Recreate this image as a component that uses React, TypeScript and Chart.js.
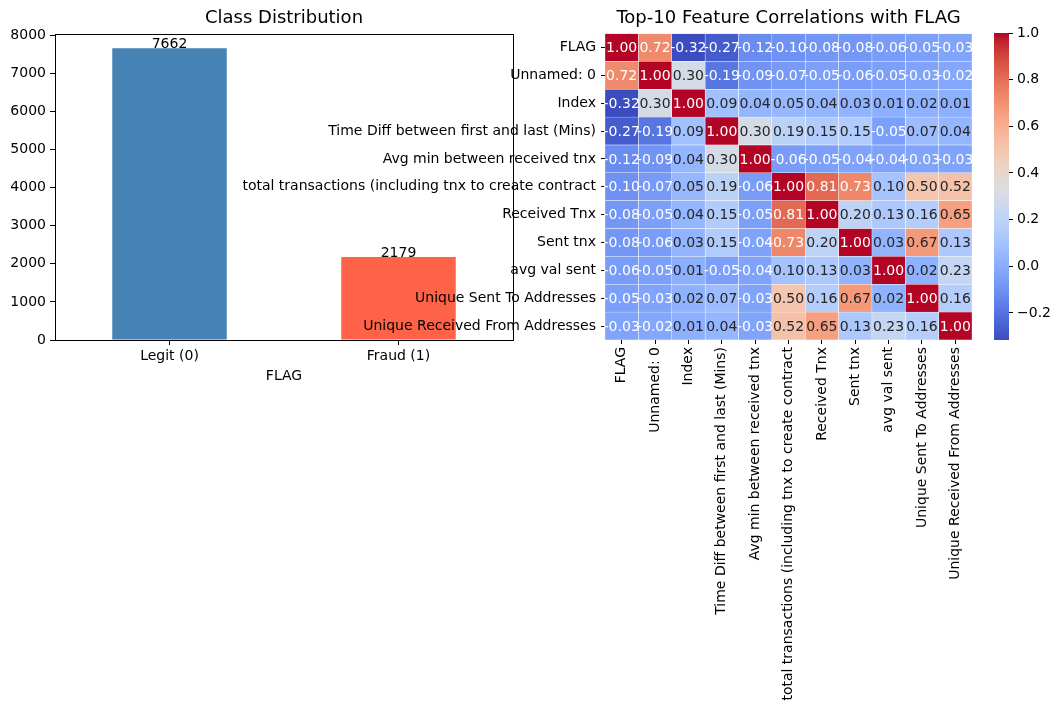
import React, { useEffect, useRef } from 'react';
import { Chart, registerables } from 'chart.js';

Chart.register(...registerables);

// ---------------- DATA ----------------
const classLabels = ['Legit (0)', 'Fraud (1)'];
const classCounts = [7662, 2179];
const classColors = ['#4682B4', '#FF6347'];
const countTicks = [0, 1000, 2000, 3000, 4000, 5000, 6000, 7000, 8000];
const countAxisMax = 8045;

const featureLabels = [
  'FLAG',
  'Unnamed: 0',
  'Index',
  'Time Diff between first and last (Mins)',
  'Avg min between received tnx',
  'total transactions (including tnx to create contract',
  'Received Tnx',
  'Sent tnx',
  'avg val sent',
  'Unique Sent To Addresses',
  'Unique Received From Addresses',
];

const corrFLAG = [1.0, 0.72, -0.32, -0.27, -0.12, -0.10, -0.08, -0.08, -0.06, -0.05, -0.03];
const corrUnnamed = [0.72, 1.0, 0.30, -0.19, -0.09, -0.07, -0.05, -0.06, -0.05, -0.03, -0.02];
const corrIndex = [-0.32, 0.30, 1.0, 0.09, 0.04, 0.05, 0.04, 0.03, 0.01, 0.02, 0.01];
const corrTimeDiff = [-0.27, -0.19, 0.09, 1.0, 0.30, 0.19, 0.15, 0.15, -0.05, 0.07, 0.04];
const corrAvgMin = [-0.12, -0.09, 0.04, 0.30, 1.0, -0.06, -0.05, -0.04, -0.04, -0.03, -0.03];
const corrTotalTx = [-0.10, -0.07, 0.05, 0.19, -0.06, 1.0, 0.81, 0.73, 0.10, 0.50, 0.52];
const corrReceived = [-0.08, -0.05, 0.04, 0.15, -0.05, 0.81, 1.0, 0.20, 0.13, 0.16, 0.65];
const corrSent = [-0.08, -0.06, 0.03, 0.15, -0.04, 0.73, 0.20, 1.0, 0.03, 0.67, 0.13];
const corrAvgVal = [-0.06, -0.05, 0.01, -0.05, -0.04, 0.10, 0.13, 0.03, 1.0, 0.02, 0.23];
const corrUniqueSent = [-0.05, -0.03, 0.02, 0.07, -0.03, 0.50, 0.16, 0.67, 0.02, 1.0, 0.16];
const corrUniqueRecv = [-0.03, -0.02, 0.01, 0.04, -0.03, 0.52, 0.65, 0.13, 0.23, 0.16, 1.0];

const corrMatrix = [
  corrFLAG, corrUnnamed, corrIndex, corrTimeDiff, corrAvgMin, corrTotalTx,
  corrReceived, corrSent, corrAvgVal, corrUniqueSent, corrUniqueRecv,
];

const colorbarTicks = [-0.2, 0.0, 0.2, 0.4, 0.6, 0.8, 1.0];
const corrMin = -0.316;
const corrMax = 1.0;

// ---------------- STYLE ----------------
const FONT = "'DejaVu Sans', sans-serif";
const TICK_SIZE = 14;
const TITLE_SIZE = 18;

Chart.defaults.font.family = FONT;
Chart.defaults.color = '#000';

// coolwarm colormap (Moreland)
const COOLWARM: number[][] = [
  [0.0, 59, 76, 192], [0.03125, 68, 90, 204], [0.0625, 77, 104, 215], [0.09375, 87, 117, 225],
  [0.125, 98, 130, 234], [0.15625, 108, 142, 241], [0.1875, 119, 154, 247], [0.21875, 130, 165, 251],
  [0.25, 141, 176, 254], [0.28125, 152, 185, 255], [0.3125, 163, 194, 255], [0.34375, 174, 201, 253],
  [0.375, 184, 208, 249], [0.40625, 194, 213, 244], [0.4375, 204, 217, 238], [0.46875, 213, 219, 230],
  [0.5, 221, 221, 221], [0.53125, 229, 216, 209], [0.5625, 236, 211, 197], [0.59375, 241, 204, 185],
  [0.625, 245, 196, 173], [0.65625, 247, 187, 160], [0.6875, 247, 177, 148], [0.71875, 247, 166, 135],
  [0.75, 244, 154, 123], [0.78125, 241, 141, 111], [0.8125, 236, 127, 99], [0.84375, 229, 112, 88],
  [0.875, 222, 96, 77], [0.90625, 213, 80, 66], [0.9375, 203, 62, 56], [0.96875, 192, 40, 47],
  [1.0, 180, 4, 38],
];

function coolwarmRGB(t: number): number[] {
  const x = Math.max(0, Math.min(1, t));
  for (let k = 0; k < COOLWARM.length - 1; k++) {
    const a = COOLWARM[k];
    const b = COOLWARM[k + 1];
    if (x <= b[0]) {
      const f = (x - a[0]) / (b[0] - a[0]);
      return [a[1] + (b[1] - a[1]) * f, a[2] + (b[2] - a[2]) * f, a[3] + (b[3] - a[3]) * f];
    }
  }
  const l = COOLWARM[COOLWARM.length - 1];
  return [l[1], l[2], l[3]];
}

function normCorr(v: number) {
  return (v - corrMin) / (corrMax - corrMin);
}

function cellRGB(v: number) {
  return coolwarmRGB(normCorr(v));
}

function rgbStr(c: number[]) {
  return `rgb(${Math.round(c[0])},${Math.round(c[1])},${Math.round(c[2])})`;
}

function luminance(c: number[]) {
  const lin = c.map((x) => {
    const s = x / 255;
    return s <= 0.03928 ? s / 12.92 : Math.pow((s + 0.055) / 1.055, 2.4);
  });
  return 0.2126 * lin[0] + 0.7152 * lin[1] + 0.0722 * lin[2];
}

const tickFont = { family: FONT, size: TICK_SIZE };
const titleFont = { family: FONT, size: TITLE_SIZE, weight: 'normal' as const };

// ---------------- PLUGINS ----------------
const framePlugin = {
  id: 'frameBox',
  afterDraw(chart: any) {
    const { ctx, chartArea: a } = chart;
    ctx.save();
    ctx.strokeStyle = '#000';
    ctx.lineWidth = 1;
    const l = Math.round(a.left) + 0.5;
    const t = Math.round(a.top) + 0.5;
    const r = Math.round(a.right) + 0.5;
    const b = Math.round(a.bottom) + 0.5;
    ctx.strokeRect(l, t, r - l, b - t);
    ctx.restore();
  },
};

const barLabelPlugin = {
  id: 'barLabels',
  afterDatasetsDraw(chart: any) {
    const { ctx } = chart;
    const meta = chart.getDatasetMeta(0);
    ctx.save();
    ctx.font = `${TICK_SIZE}px ${FONT}`;
    ctx.fillStyle = '#000';
    ctx.textAlign = 'center';
    ctx.textBaseline = 'alphabetic';
    meta.data.forEach((el: any, i: number) => {
      ctx.fillText(String(classCounts[i]), el.x, el.y);
    });
    ctx.restore();
  },
};

const annotPlugin = {
  id: 'cellAnnot',
  afterDatasetsDraw(chart: any) {
    const { ctx } = chart;
    ctx.save();
    ctx.font = `${TICK_SIZE}px ${FONT}`;
    ctx.textAlign = 'center';
    ctx.textBaseline = 'middle';
    featureLabels.forEach((_, j) => {
      const meta = chart.getDatasetMeta(j);
      meta.data.forEach((el: any, i: number) => {
        const v = corrMatrix[i][j];
        const lum = luminance(cellRGB(v));
        ctx.fillStyle = lum > 0.408 ? '#262626' : '#ffffff';
        const cx = (el.x + el.base) / 2;
        ctx.fillText(v.toFixed(2), cx, el.y + 1);
      });
    });
    ctx.restore();
  },
};

// ---------------- CONFIGS ----------------
function classConfig(): any {
  return {
    type: 'bar',
    data: {
      labels: classLabels,
      datasets: [
        {
          data: classCounts,
          backgroundColor: classColors,
          borderWidth: 0,
          barPercentage: 0.5,
          categoryPercentage: 1.0,
        },
      ],
    },
    options: {
      responsive: false,
      animation: false,
      devicePixelRatio: 1,
      events: [],
      layout: { padding: { left: 0, right: 17, top: 0, bottom: 0 } },
      plugins: {
        legend: { display: false },
        tooltip: { enabled: false },
        title: {
          display: true,
          text: 'Class Distribution',
          fullSize: false,
          color: '#000',
          font: titleFont,
          padding: { top: 8, bottom: 4 },
        },
      },
      scales: {
        x: {
          type: 'category',
          offset: true,
          grid: { display: true, drawOnChartArea: false, drawTicks: true, tickLength: 5, color: '#000', offset: false },
          border: { display: false },
          ticks: { color: '#000', font: tickFont, padding: 3, maxRotation: 0, minRotation: 0 },
          title: { display: true, text: 'FLAG', color: '#000', font: tickFont, padding: { top: 0, bottom: 5 } },
          afterFit: (s: any) => {
            s.height = 50;
          },
        },
        y: {
          min: 0,
          max: countAxisMax,
          grid: { display: true, drawOnChartArea: false, drawTicks: true, tickLength: 5, color: '#000' },
          border: { display: false },
          ticks: {
            color: '#000',
            font: tickFont,
            padding: 4,
            stepSize: 1000,
            includeBounds: false,
            callback: (v: any) => String(v),
          },
          afterBuildTicks: (s: any) => {
            s.ticks = countTicks.map((v) => ({ value: v }));
          },
          afterFit: (s: any) => {
            s.width = 55;
          },
        },
      },
    },
    plugins: [framePlugin, barLabelPlugin],
  };
}

function heatConfig(): any {
  return {
    type: 'bar',
    data: {
      labels: featureLabels,
      datasets: featureLabels.map((_, j) => ({
        data: featureLabels.map(() => 1),
        backgroundColor: corrMatrix.map((row) => rgbStr(cellRGB(row[j]))),
        borderColor: '#ffffff',
        borderWidth: 0.5,
        borderSkipped: false,
        barPercentage: 1.0,
        categoryPercentage: 1.0,
      })),
    },
    options: {
      indexAxis: 'y',
      responsive: false,
      animation: false,
      devicePixelRatio: 1,
      events: [],
      layout: { padding: { left: 0, right: 18, top: 0, bottom: 0 } },
      plugins: {
        legend: { display: false },
        tooltip: { enabled: false },
        title: {
          display: true,
          text: 'Top-10 Feature Correlations with FLAG',
          fullSize: false,
          color: '#000',
          font: titleFont,
          padding: { top: 8, bottom: 4 },
        },
      },
      scales: {
        x: {
          type: 'linear',
          min: 0,
          max: featureLabels.length,
          stacked: true,
          grid: { display: true, drawOnChartArea: false, drawTicks: true, tickLength: 4, color: '#000' },
          border: { display: false },
          ticks: {
            color: '#000',
            font: tickFont,
            padding: 3,
            autoSkip: false,
            minRotation: 90,
            maxRotation: 90,
            callback: (_v: any, i: number) => featureLabels[i],
          },
          afterBuildTicks: (s: any) => {
            s.ticks = featureLabels.map((_, j) => ({ value: j + 0.5 }));
          },
          afterFit: (s: any) => {
            s.height = 371;
          },
        },
        y: {
          type: 'category',
          stacked: true,
          offset: true,
          grid: { display: true, drawOnChartArea: false, drawTicks: true, tickLength: 4, color: '#000', offset: false },
          border: { display: false },
          ticks: { color: '#000', font: tickFont, padding: 5, autoSkip: false },
          afterFit: (s: any) => {
            s.width = 405;
          },
        },
      },
    },
    plugins: [annotPlugin],
  };
}

function colorbarConfig(): any {
  return {
    type: 'bar',
    data: {
      labels: [''],
      datasets: [
        {
          data: [[corrMin, corrMax]],
          borderWidth: 0,
          barPercentage: 1.0,
          categoryPercentage: 1.0,
          backgroundColor: (ctx: any) => {
            const chart = ctx.chart;
            const ys = chart.scales && chart.scales.y;
            if (!ys || !chart.chartArea) return '#ddd';
            const y0 = ys.getPixelForValue(corrMin);
            const y1 = ys.getPixelForValue(corrMax);
            const g = chart.ctx.createLinearGradient(0, y0, 0, y1);
            COOLWARM.forEach((s) => g.addColorStop(s[0], `rgb(${s[1]},${s[2]},${s[3]})`));
            return g;
          },
        },
      ],
    },
    options: {
      responsive: false,
      animation: false,
      devicePixelRatio: 1,
      events: [],
      layout: { padding: { left: 14, right: 0, top: 33, bottom: 20 } },
      plugins: { legend: { display: false }, tooltip: { enabled: false }, title: { display: false } },
      scales: {
        x: { display: false, offset: true },
        y: {
          position: 'right',
          min: corrMin,
          max: corrMax,
          grid: { display: true, drawOnChartArea: false, drawTicks: true, tickLength: 4, color: '#000' },
          border: { display: false },
          ticks: {
            color: '#000',
            font: tickFont,
            padding: 4,
            callback: (v: any) => {
              const s = Number(v).toFixed(1);
              return s.startsWith('-') ? '\u2212' + s.slice(1) : s;
            },
          },
          afterBuildTicks: (s: any) => {
            s.ticks = colorbarTicks.map((v) => ({ value: v }));
          },
          afterFit: (s: any) => {
            s.width = 53;
          },
        },
      },
    },
  };
}

export default function App() {
  const classRef = useRef<HTMLCanvasElement>(null);
  const heatRef = useRef<HTMLCanvasElement>(null);
  const cbarRef = useRef<HTMLCanvasElement>(null);

  useEffect(() => {
    const charts: Chart[] = [];
    if (classRef.current) charts.push(new Chart(classRef.current, classConfig()));
    if (heatRef.current) charts.push(new Chart(heatRef.current, heatConfig()));
    if (cbarRef.current) charts.push(new Chart(cbarRef.current, colorbarConfig()));
    return () => charts.forEach((c) => c.destroy());
  }, []);

  return (
    <div style={{ position: 'absolute', left: 0, top: 0, width: 1062, height: 711, background: '#fff', overflow: 'hidden' }}>
      <canvas ref={classRef} width={530} height={390} style={{ position: 'absolute', left: 0, top: 0, width: 530, height: 390 }} />
      <canvas ref={heatRef} width={790} height={711} style={{ position: 'absolute', left: 200, top: 0, width: 790, height: 711 }} />
      <canvas ref={cbarRef} width={82} height={360} style={{ position: 'absolute', left: 980, top: 0, width: 82, height: 360 }} />
    </div>
  );
}
